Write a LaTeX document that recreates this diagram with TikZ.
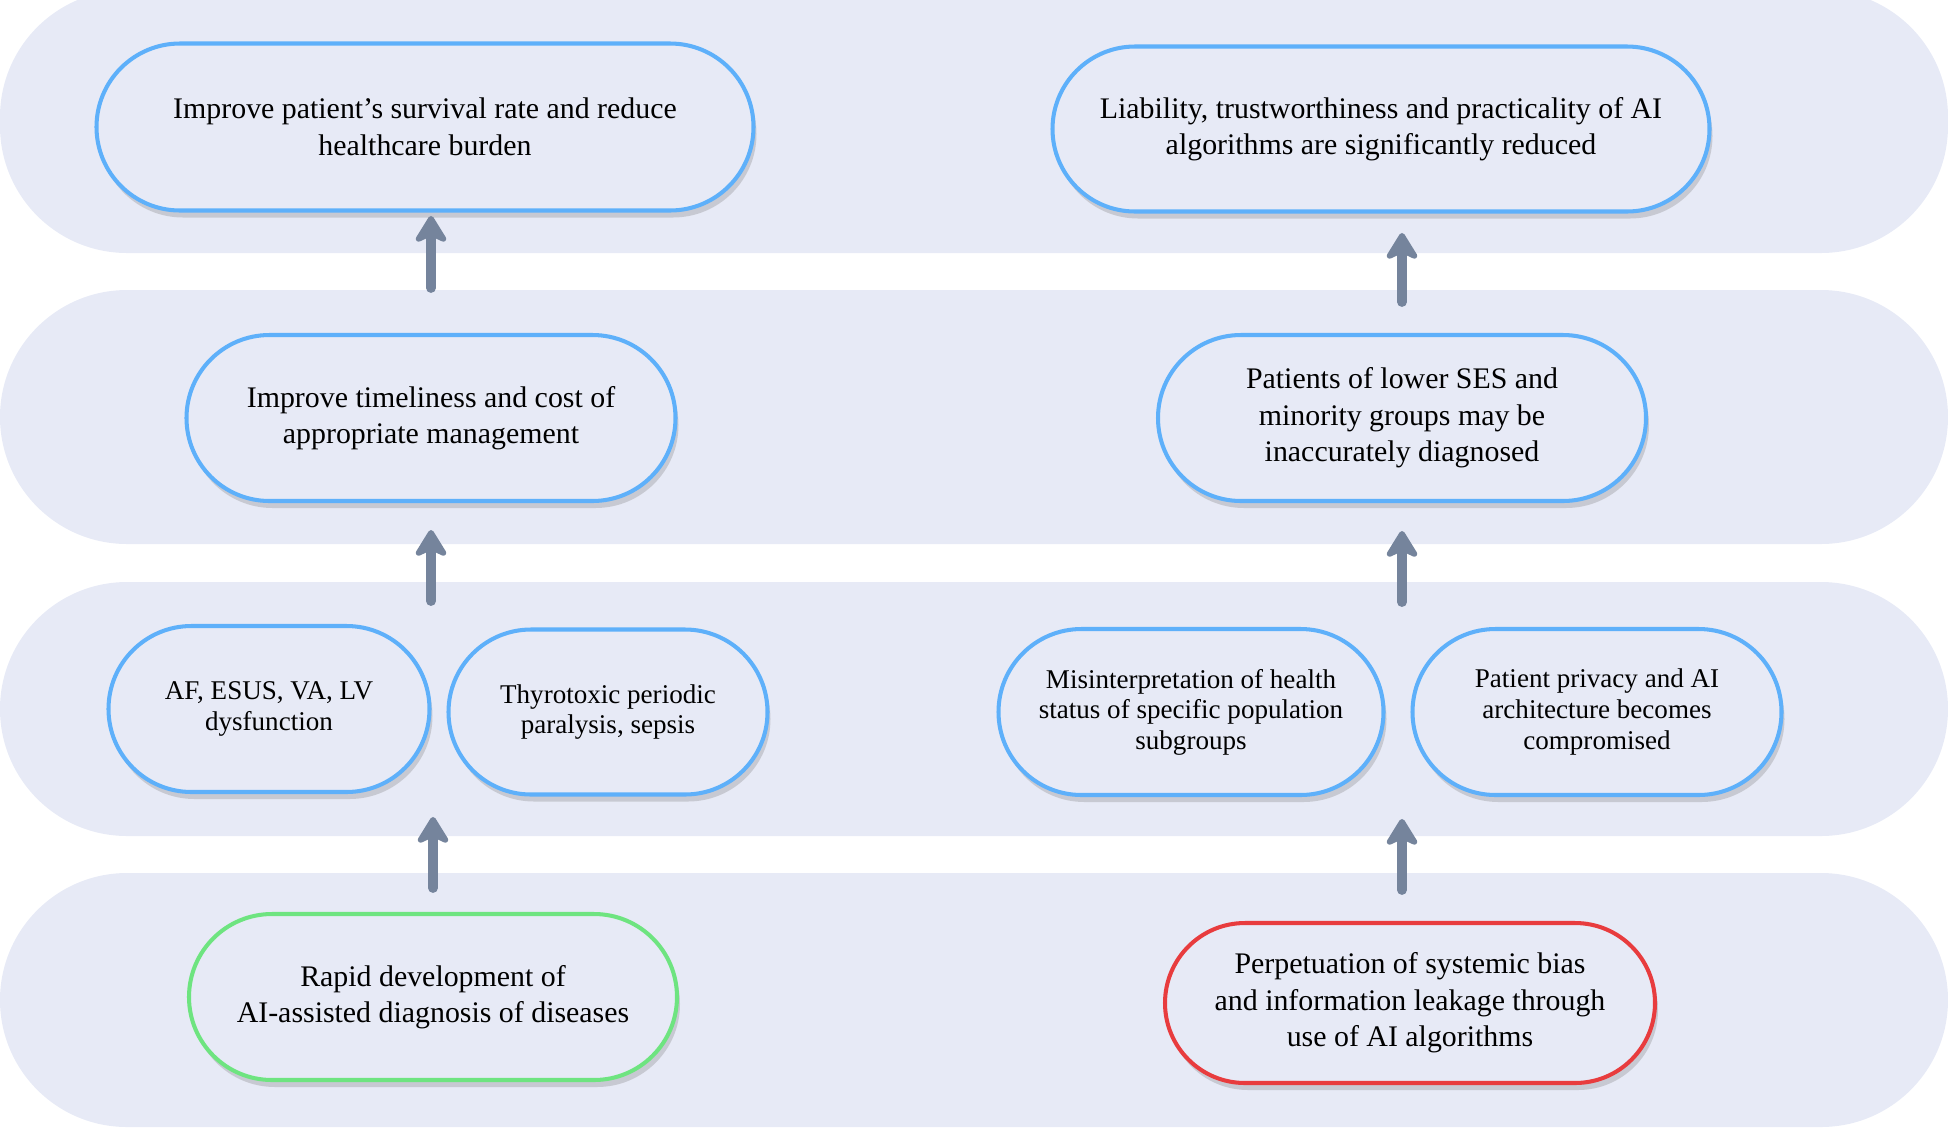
\documentclass[tikz,border=0pt]{standalone}
\usepackage{fontspec}
\setmainfont{Liberation Serif}
\usetikzlibrary{shapes.misc,arrows.meta,shadows}
\definecolor{bandfill}{RGB}{231,234,246}
\definecolor{boxblue}{RGB}{94,176,250}
\definecolor{boxgreen}{RGB}{110,228,128}
\definecolor{boxred}{RGB}{232,60,62}
\definecolor{arrowgrey}{RGB}{117,132,156}
\begin{document}
\begin{tikzpicture}[line join=round, line cap=round,
    band/.style={fill=bandfill, rounded corners=1.27cm},
    box/.style={rounded rectangle, draw=boxblue, line width=1.15pt, fill=bandfill,
        align=center, inner sep=0pt, font=\fontsize{8.5}{10.4}\selectfont,
        drop shadow={shadow xshift=0.3mm, shadow yshift=-0.7mm, opacity=0.3}},
    small/.style={font=\fontsize{7.7}{8.7}\selectfont},
    flow/.style={draw=arrowgrey, line width=2.8pt, -{Stealth[length=9pt,width=11pt,inset=2.5pt,round]}}]
    \useasboundingbox (0,0) rectangle (19.48,-11.28);
    \fill[band] (0,0.1) rectangle (19.48,-2.53);
    \fill[band] (0,-2.90) rectangle (19.48,-5.44);
    \fill[band] (0,-5.82) rectangle (19.48,-8.36);
    \fill[band] (0,-8.73) rectangle (19.48,-11.27);

    \node[box, minimum width=6.57cm, minimum height=1.67cm] (survival) at (4.25,-1.27)
        {Improve patient’s survival rate and reduce\\healthcare burden};
    \node[box, minimum width=6.57cm, minimum height=1.65cm] (liability) at (13.81,-1.29)
        {Liability, trustworthiness and practicality of AI\\algorithms are significantly reduced};
    \node[box, minimum width=4.89cm, minimum height=1.66cm] (timely) at (4.31,-4.18)
        {Improve timeliness and cost of\\appropriate management};
    \node[box, minimum width=4.88cm, minimum height=1.66cm] (ses) at (14.02,-4.18)
        {Patients of lower SES and\\minority groups may be\\inaccurately diagnosed};
    \node[box, small, minimum width=3.21cm, minimum height=1.66cm] (afesus) at (2.69,-7.09)
        {AF, ESUS, VA, LV\\dysfunction};
    \node[box, small, minimum width=3.19cm, minimum height=1.65cm] (thyro) at (6.08,-7.12)
        {Thyrotoxic periodic\\paralysis, sepsis};
    \node[box, small, minimum width=3.85cm, minimum height=1.66cm] (misread) at (11.91,-7.12)
        {Misinterpretation of health\\status of specific population\\subgroups};
    \node[box, small, minimum width=3.69cm, minimum height=1.66cm] (privacy) at (15.97,-7.12)
        {Patient privacy and AI\\architecture becomes\\compromised};
    \node[box, draw=boxgreen, minimum width=4.88cm, minimum height=1.66cm] (rapid) at (4.33,-9.97)
        {Rapid development of\\AI-assisted diagnosis of diseases};
    \node[box, draw=boxred, minimum width=4.90cm, minimum height=1.60cm] (bias) at (14.10,-10.03)
        {Perpetuation of systemic bias\\and information leakage through\\use of AI algorithms};

    \draw[flow] ([yshift=2.4mm]rapid.north) -- ([yshift=9.5mm]rapid.north);
    \draw[flow] ([yshift=-9.8mm]timely.south) -- ([yshift=-2.7mm]timely.south);
    \draw[flow] (timely.north) ++(0,0.45) -- ++(0,0.72);
    \draw[flow] (bias.north -| ses) ++(0,0.31) -- ++(0,0.71);
    \draw[flow] ([yshift=-9.9mm]ses.south) -- ([yshift=-2.8mm]ses.south);
    \draw[flow] (ses.north) ++(0,0.31) -- ++(0,0.69);
\end{tikzpicture}
\end{document}
